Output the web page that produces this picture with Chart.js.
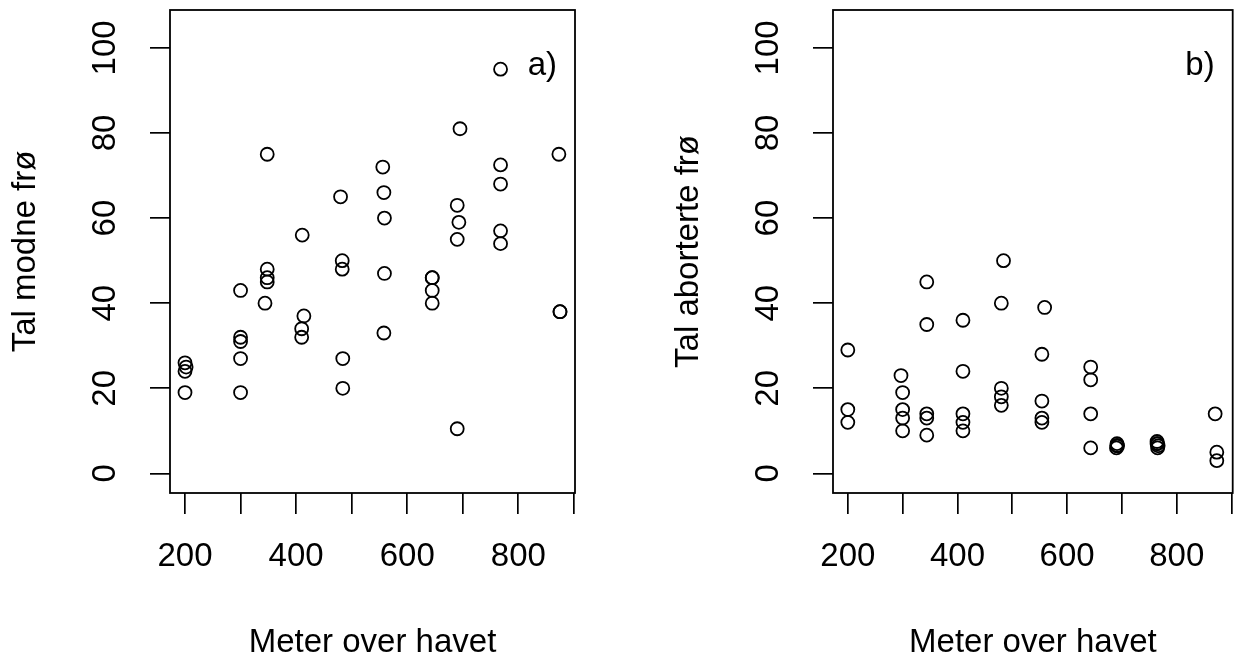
<!DOCTYPE html>
<html>
<head>
<meta charset="utf-8">
<script src="https://cdn.jsdelivr.net/npm/chart.js"></script>
<style>
  body { margin: 0; background: #fff; }
  #wrap { position: relative; width: 1241px; height: 660px; background: #fff; }
  canvas { position: absolute; top: 0; }
  #chartA { left: 0; }
  #chartB { left: 663px; }
</style>
</head>
<body>
<div id="wrap">
  <canvas id="chartA" width="620" height="660"></canvas>
  <canvas id="chartB" width="578" height="660"></canvas>
</div>
<script>
// ticks
var xTicks = [200, 300, 400, 500, 600, 700, 800, 900];
var xLabels = [200, 400, 600, 800];
var yTicks = [0, 20, 40, 60, 80, 100];

// a) Tal modne frø
var altA = [200, 202, 200, 200,
  300, 300, 300, 300, 300,
  348, 348, 348, 348, 344,
  411, 414, 410, 410,
  480, 483, 483, 484, 484,
  556, 558, 559, 559, 558,
  645, 645, 645, 645,
  695, 690, 693, 690, 690,
  768, 768, 768, 768, 768,
  873, 875, 875];
var modne = [26, 25, 24, 19,
  43, 32, 31, 27, 19,
  75, 48, 46, 45, 40,
  56, 37, 34, 32,
  65, 50, 48, 27, 20,
  72, 66, 60, 47, 33,
  46, 46, 43, 40,
  81, 63, 59, 55, 10.5,
  95, 72.5, 68, 57, 54,
  75, 38, 38];

// b) Tal aborterte frø
var altB = [200, 200, 200,
  297, 300, 300, 300, 300,
  344, 344, 344, 344, 344,
  410, 410, 410, 410, 410,
  484, 480, 480, 480, 480,
  559, 554, 554, 554, 554,
  643, 643, 643, 643,
  691, 691, 691, 690, 692,
  765, 764, 766, 765, 764,
  870, 873, 873];
var aborterte = [29, 15, 12,
  23, 19, 15, 13, 10,
  45, 35, 14, 13, 9,
  36, 24, 14, 12, 10,
  50, 40, 20, 18, 16,
  39, 28, 17, 13, 12,
  25, 22, 14, 6,
  6.5, 6.5, 7, 6, 6.5,
  7, 7.5, 6.5, 6, 7,
  14, 5, 3];

var fontFam = 'Arial, "Liberation Sans", sans-serif';
var tickSize = 33;
var titleSize = 33;

// box round the plot, rotated y labels and the a)/b) tag
function framePlugin(tag) {
  return {
    id: 'frame',
    afterDraw: function (chart) {
      var ctx = chart.ctx;
      var ca = chart.chartArea;
      var ys = chart.scales.y;
      ctx.save();
      ctx.strokeStyle = '#000';
      ctx.lineWidth = 1.8;
      ctx.strokeRect(ca.left, ca.top, ca.right - ca.left, ca.bottom - ca.top);

      ctx.fillStyle = '#000';
      ctx.font = tickSize + 'px ' + fontFam;
      ctx.textAlign = 'center';
      ctx.textBaseline = 'alphabetic';
      yTicks.forEach(function (v) {
        var py = ys.getPixelForValue(v);
        ctx.save();
        ctx.translate(ca.left - 55, py);
        ctx.rotate(-Math.PI / 2);
        ctx.fillText(String(v), 0, 0);
        ctx.restore();
      });

      ctx.textAlign = 'right';
      ctx.fillText(tag, ca.right - 18, ca.top + 65);
      ctx.restore();
    }
  };
}

function makePanel(id, xs, ys, yTitle, tag, padRight) {
  var points = xs.map(function (x, i) {
    return { x: x, y: ys[i] };
  });
  var ctx = document.getElementById(id).getContext('2d');
  return new Chart(ctx, {
    type: 'scatter',
    data: {
      datasets: [{
        data: points,
        pointRadius: 6.5,
        pointHoverRadius: 6.5,
        pointBorderWidth: 1.8,
        pointBorderColor: '#000',
        pointBackgroundColor: 'rgba(0,0,0,0)'
      }]
    },
    options: {
      responsive: false,
      animation: false,
      layout: { padding: { top: 10, right: padRight, left: 0, bottom: 0 } },
      plugins: {
        legend: { display: false },
        tooltip: { enabled: false }
      },
      scales: {
        x: {
          type: 'linear',
          min: 173,
          max: 902,
          afterBuildTicks: function (s) {
            s.ticks = xTicks.map(function (v) { return { value: v }; });
          },
          afterFit: function (s) {
            s.height = 167;
            s.paddingLeft = 0;
            s.paddingRight = 0;
          },
          border: { display: false },
          grid: { drawOnChartArea: false, drawTicks: true, tickLength: 21, color: '#000', lineWidth: 1.7 },
          ticks: {
            autoSkip: false,
            maxRotation: 0,
            padding: 23,
            color: '#000',
            font: { family: fontFam, size: tickSize },
            callback: function (v) {
              return xLabels.indexOf(v) >= 0 ? String(v) : '';
            }
          },
          title: {
            display: true,
            text: 'Meter over havet',
            color: '#000',
            font: { family: fontFam, size: titleSize, lineHeight: 1 },
            padding: { top: 0, bottom: 1 }
          }
        },
        y: {
          type: 'linear',
          min: -4.6,
          max: 108.9,
          afterBuildTicks: function (s) {
            s.ticks = yTicks.map(function (v) { return { value: v }; });
          },
          afterFit: function (s) {
            s.width = 170;
            s.paddingTop = 0;
            s.paddingBottom = 0;
          },
          border: { display: false },
          grid: { drawOnChartArea: false, drawTicks: true, tickLength: 20, color: '#000', lineWidth: 1.7 },
          ticks: {
            color: '#000',
            font: { family: fontFam, size: tickSize },
            callback: function () { return ''; }
          },
          title: {
            display: true,
            text: yTitle,
            color: '#000',
            font: { family: fontFam, size: titleSize, lineHeight: 1 },
            padding: { top: 9.5, bottom: 0 }
          }
        }
      }
    },
    plugins: [framePlugin(tag)]
  });
}

makePanel('chartA', altA, modne, 'Tal modne frø', 'a)', 45);
makePanel('chartB', altB, aborterte, 'Tal aborterte frø', 'b)', 3);
</script>
</body>
</html>
